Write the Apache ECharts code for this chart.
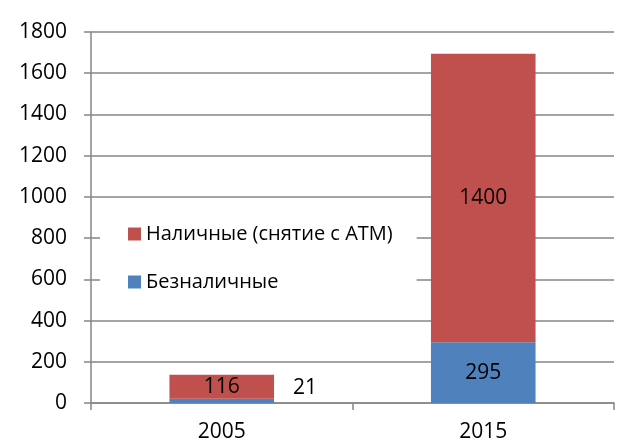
<!DOCTYPE html>
<html>
<head>
<meta charset="utf-8">
<script src="https://cdn.jsdelivr.net/npm/echarts@6/dist/echarts.min.js"></script>
<style>
  html, body { margin: 0; padding: 0; background: #fff; }
  #chart { width: 618px; height: 446px; }
</style>
</head>
<body>
<div id="chart"></div>
<script>
var years = ['2005', '2015'];
var cashless = [21, 295];
var cash = [116, 1400];
var cashlessName = 'Безналичные';
var cashName = 'Наличные (снятие с ATM)';

var font = '"Open Sans", "Noto Sans", sans-serif';
var axisGray = '#868686';

var chart = echarts.init(document.getElementById('chart'));

// у 2005 подпись синей части вынесена вправо от столбика
var cashlessData = cashless.map(function (v, i) {
  if (i === 0) {
    return { value: v, label: { position: 'right', distance: 19, offset: [0, -13] } };
  }
  return v;
});

var option = {
  animation: false,
  textStyle: { fontFamily: font },
  grid: { left: 91, right: 4, top: 32, bottom: 43 },
  legend: {
    orient: 'vertical',
    left: 100,
    top: 214,
    padding: [10, 24, 10, 28],
    backgroundColor: '#fff',
    itemWidth: 13,
    itemHeight: 13,
    itemGap: 28,
    icon: 'rect',
    data: [cashName, cashlessName],
    textStyle: { fontFamily: font, fontSize: 20, color: '#000' }
  },
  xAxis: {
    type: 'category',
    data: years,
    axisLine: { lineStyle: { color: axisGray, width: 1.5 } },
    axisTick: { show: true, length: 7, lineStyle: { color: axisGray, width: 1.5 } },
    axisLabel: { margin: 19, fontSize: 21, color: '#000', fontFamily: font }
  },
  yAxis: {
    type: 'value',
    min: 0,
    max: 1800,
    interval: 200,
    axisLine: { show: true, lineStyle: { color: axisGray, width: 1.5 } },
    axisTick: { show: true, length: 7, lineStyle: { color: axisGray, width: 1.5 } },
    axisLabel: {
      margin: 24, fontSize: 21, color: '#000', fontFamily: font,
      formatter: function (v) { return String(v); }
    },
    splitLine: { lineStyle: { color: axisGray, width: 1.5 } }
  },
  series: [
    {
      name: cashlessName,
      type: 'bar',
      stack: 'total',
      barWidth: '40%',
      itemStyle: { color: '#4F81BD' },
      label: { show: true, position: 'inside', fontSize: 21, color: '#000', fontFamily: font },
      data: cashlessData
    },
    {
      name: cashName,
      type: 'bar',
      stack: 'total',
      barWidth: '40%',
      itemStyle: { color: '#C0504D' },
      label: { show: true, position: 'inside', fontSize: 21, color: '#000', fontFamily: font },
      data: cash
    }
  ]
};

chart.setOption(option);
</script>
</body>
</html>
